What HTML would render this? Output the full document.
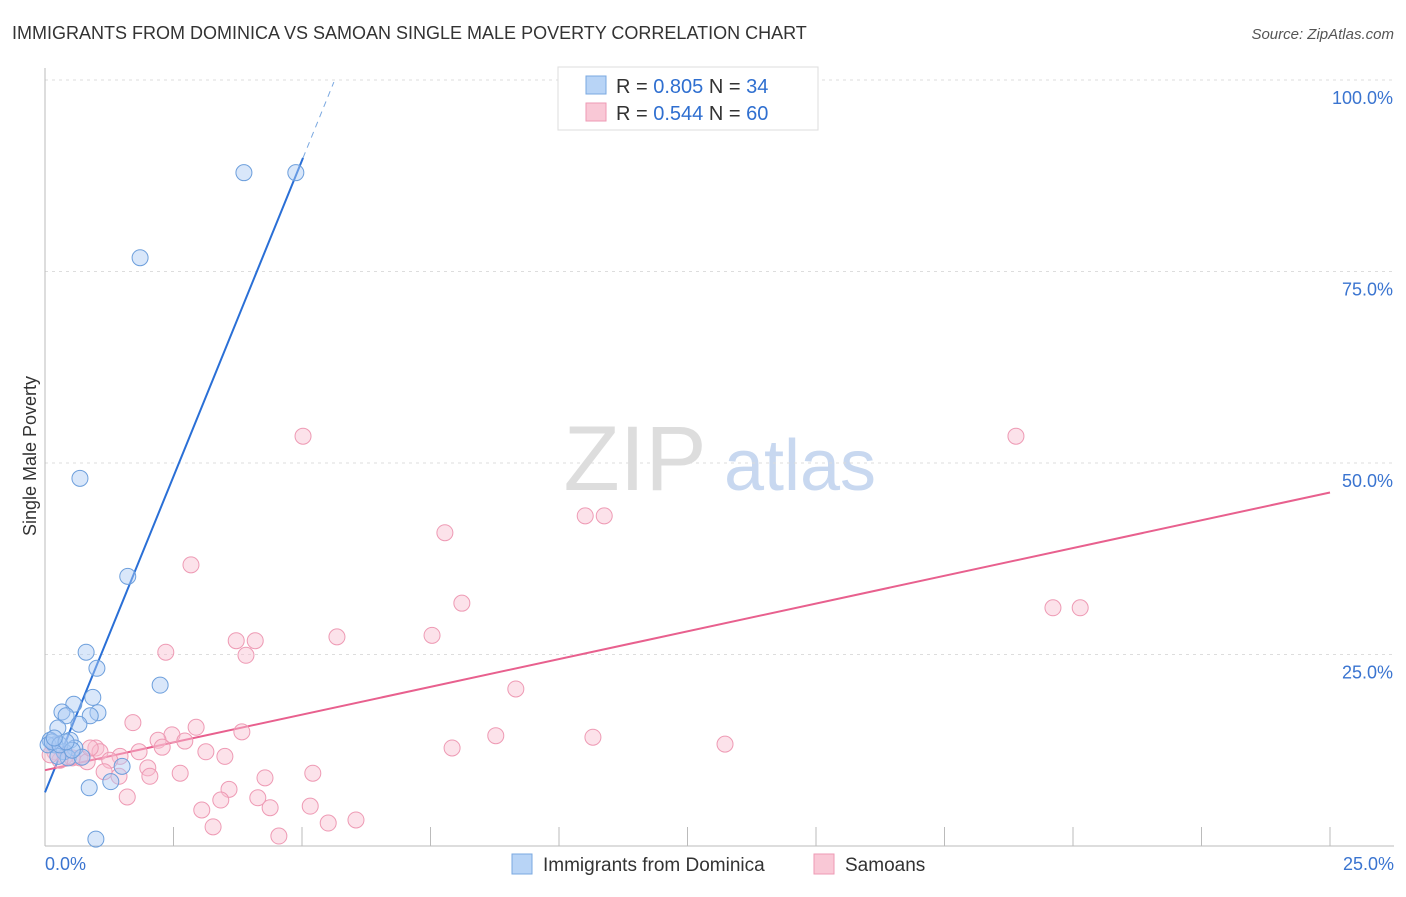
<!DOCTYPE html>
<html><head><meta charset="utf-8">
<style>
body{margin:0;background:#fff;font-family:"Liberation Sans",sans-serif;}
svg text{font-family:"Liberation Sans",sans-serif;}
</style></head>
<body>
<svg id="chart" width="1406" height="892" xmlns="http://www.w3.org/2000/svg">
<text x="12" y="39" font-size="18" fill="#333">IMMIGRANTS FROM DOMINICA VS SAMOAN SINGLE MALE POVERTY CORRELATION CHART</text>
<text x="1394" y="39" font-size="15" fill="#555" text-anchor="end" font-style="italic">Source: ZipAtlas.com</text>
<text x="36" y="456" font-size="18" fill="#333" text-anchor="middle" transform="rotate(-90 36 456)">Single Male Poverty</text>
<g>
<text x="635" y="490" font-size="92" fill="#ddd" text-anchor="middle" font-family="Liberation Serif">ZIP</text>
<text x="800" y="490" font-size="72" fill="#c8d8f0" text-anchor="middle">atlas</text>
</g>
<g id="grid"></g><g id="xticks"></g><g id="trends"></g><g id="pts"></g>
<g>
<rect x="558" y="67" width="260" height="63" fill="#fff" stroke="#ddd"/>
<rect x="586" y="76" width="20" height="18" fill="#b8d4f6" stroke="#7aa8e0"/>
<text x="616" y="93" font-size="20" fill="#333">R = <tspan fill="#2f6fd0">0.805</tspan>   N = <tspan fill="#2f6fd0">34</tspan></text>
<rect x="586" y="103" width="20" height="18" fill="#f9c8d6" stroke="#ee9ab4"/>
<text x="616" y="120" font-size="20" fill="#333">R = <tspan fill="#2f6fd0">0.544</tspan>   N = <tspan fill="#2f6fd0">60</tspan></text>
</g>
<g>
<rect x="512" y="854" width="20" height="20" fill="#b8d4f6" stroke="#7aa8e0"/>
<text x="543" y="871" font-size="19" fill="#333">Immigrants from Dominica</text>
<rect x="814" y="854" width="20" height="20" fill="#f9c8d6" stroke="#ee9ab4"/>
<text x="845" y="871" font-size="19" fill="#333">Samoans</text>
</g>
</svg>
<script>
const yTicks=[25,50,75,100];
const yTickLabels=["25.0%","50.0%","75.0%","100.0%"];
const xTickLabels=["0.0%","25.0%"];
const blueX=[3.87,4.88,1.85,0.68,1.61,0.80,1.01,2.24,0.93,0.56,0.33,1.03,0.41,0.88,0.66,0.25,0.10,0.49,0.19,0.06,0.58,0.37,0.45,0.25,0.72,1.50,1.28,0.86,0.99,0.14,0.29,0.53,0.41,0.18];
const blueY=[87.9,87.9,76.8,48.0,35.2,25.3,23.2,21.0,19.4,18.5,17.5,17.4,17.0,17.0,15.9,15.4,13.8,13.8,13.2,13.2,12.8,12.3,11.5,11.7,11.6,10.4,8.4,7.6,0.9,13.6,13.2,12.5,13.6,14.1];
const pinkX=[5.02,18.89,10.51,10.88,7.78,2.84,8.11,19.61,20.14,7.53,5.68,3.72,4.09,2.35,3.91,9.16,1.71,2.94,3.83,2.47,2.20,8.77,10.66,2.72,7.92,13.23,2.28,1.83,0.99,1.07,3.13,3.50,1.46,0.68,1.26,0.82,0.39,0.19,2.00,1.15,2.63,5.21,2.04,1.44,4.28,3.58,1.60,4.14,3.42,4.38,5.16,3.05,6.05,5.51,3.27,4.55,0.53,0.29,0.88,0.10];
const pinkY=[53.5,53.5,43.1,43.1,40.9,36.7,31.7,31.1,31.1,27.5,27.3,26.8,26.8,25.3,24.9,20.5,16.1,15.5,14.9,14.5,13.8,14.4,14.2,13.7,12.8,13.3,12.9,12.3,12.8,12.3,12.3,11.7,11.7,11.5,11.2,11.0,11.7,12.3,10.2,9.7,9.5,9.5,9.1,9.1,8.9,7.4,6.4,6.3,6.0,5.0,5.2,4.7,3.4,3.0,2.5,1.3,11.5,11.2,12.8,11.9];
const blueTrend=[7.0,16.5]; // intercept, slope
const pinkTrend=[9.9,1.45];
const NS="http://www.w3.org/2000/svg";
const sx=v=>45+v*51.4, sy=v=>846-v*7.66;
function mk(tag,attrs,parent){const e=document.createElementNS(NS,tag);for(const k in attrs)e.setAttribute(k,attrs[k]);parent.appendChild(e);return e;}
const grid=document.getElementById('grid');
yTicks.forEach((t,i)=>{
 const l=mk('line',{x1:45,x2:1394,y1:sy(t),y2:sy(t),stroke:'#ddd','stroke-dasharray':'3,4'},grid);
 
 
 const tx=mk('text',{x:1393,y:sy(t)+24,'font-size':18,fill:'#3a74d0','text-anchor':'end'},grid);
 tx.textContent=yTickLabels[i];
 
 
});
const ax=mk('line',{x1:45,x2:45,y1:68,y2:846,stroke:'#bbb'},grid);


const bx=mk('line',{x1:45,x2:1394,y1:846,y2:846,stroke:'#bbb'},grid);


const xt=document.getElementById('xticks');
for(let i=0;i<=10;i++){const x=sx(i*2.5);
 const t=mk('line',{x1:x,x2:x,y1:827,y2:846,stroke:'#bbb'},xt);
 
 }
[[0,'start',45],[25,'end',1394]].forEach((a,i)=>{
 const t=mk('text',{x:a[2],y:870,'font-size':18,fill:'#3a74d0','text-anchor':a[1]},xt);
 t.textContent=xTickLabels[i];
 
 });
const tr=document.getElementById('trends');
const b1=mk('line',{x1:sx(0),y1:sy(blueTrend[0]),x2:sx(5.02),y2:sy(blueTrend[0]+blueTrend[1]*5.02),stroke:'#2a6fd6','stroke-width':2},tr);


const b2=mk('line',{x1:sx(5.02),y1:sy(blueTrend[0]+blueTrend[1]*5.02),x2:sx(5.62),y2:sy(blueTrend[0]+blueTrend[1]*5.62),stroke:'#7aa8e0','stroke-width':1,'stroke-dasharray':'6,5'},tr);


const p1=mk('line',{x1:sx(0),y1:sy(pinkTrend[0]),x2:sx(25),y2:sy(pinkTrend[0]+pinkTrend[1]*25),stroke:'#e8608e','stroke-width':2},tr);


const pts=document.getElementById('pts');
pinkX.forEach((x,i)=>{const c=mk('circle',{cx:sx(x),cy:sy(pinkY[i]),r:8,fill:'rgba(249,190,208,0.45)',stroke:'#ee9ab4','stroke-width':1},pts);
 
 });
blueX.forEach((x,i)=>{const c=mk('circle',{cx:sx(x),cy:sy(blueY[i]),r:8,fill:'rgba(170,202,244,0.45)',stroke:'#6d9fdc','stroke-width':1},pts);
 
 });
</script>
</body></html>
